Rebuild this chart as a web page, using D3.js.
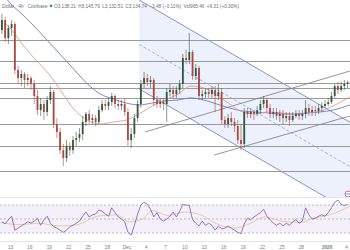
<!DOCTYPE html>
<html>
<head>
<meta charset="utf-8">
<script src="https://cdn.jsdelivr.net/npm/d3@7"></script>
<style>
	html, body { margin: 0; padding: 0; background: #fff; overflow: hidden; }
	svg { display: block; font-family: 'Liberation Sans', Arial, sans-serif; }
</style>
</head>
<body>
<svg width="350" height="250"></svg>
<script>
// 12h candles
let firstCandle = '2025-11-11 18'
let candleHours = 12

let opens = [3462, 3525, 3412, 3475, 3500, 3212, 3162, 3188, 3150, 3162, 3125, 3050, 2962, 3000, 2950, 3025, 3075, 2875, 2825, 2712,
	2662, 2738, 2712, 2775, 2788, 2812, 2888, 2938, 2900, 2912, 2888, 2962, 3000, 2988, 3012, 3050, 3000, 2988, 3000, 2950,
	2775, 2812, 2912, 3000, 3125, 3162, 3138, 3150, 3025, 3000, 3012, 3000, 3075, 3088, 3062, 3088, 3125, 3288, 3275, 3325,
	3175, 3225, 3050, 3062, 3075, 3062, 3088, 3050, 3075, 2900, 2875, 2912, 2888, 2862, 2775, 2750, 2950, 2938, 2950, 2938,
	2962, 3000, 3025, 2975, 2938, 2950, 2925, 2938, 2912, 2925, 2900, 2925, 2938, 2925, 2938, 2975, 2950, 2962, 2956, 2975,
	2988, 3000, 3012, 3050, 3112, 3088, 3112, 3125]
let highs = [3562, 3544, 3494, 3525, 3512, 3238, 3212, 3200, 3188, 3175, 3150, 3088, 3038, 3025, 3050, 3112, 3088, 2912, 2850, 2750,
	2775, 2762, 2800, 2825, 2850, 2925, 2950, 2962, 2938, 2931, 2988, 3025, 3025, 3038, 3069, 3062, 3025, 3025, 3038, 2975,
	2850, 2938, 3025, 3150, 3200, 3188, 3175, 3162, 3050, 3038, 3038, 3100, 3125, 3112, 3112, 3150, 3312, 3338, 3444, 3338,
	3250, 3238, 3088, 3100, 3100, 3112, 3112, 3125, 3100, 2925, 2938, 2950, 2912, 2900, 2875, 2975, 2975, 2975, 2962, 2988,
	3025, 3050, 3038, 3000, 2975, 2975, 2962, 2962, 2950, 2950, 2950, 2962, 2962, 2962, 3025, 3000, 2988, 2988, 3000, 3012,
	3025, 3038, 3075, 3125, 3138, 3138, 3150, 3146]
let lows = [3438, 3388, 3375, 3425, 3188, 3125, 3112, 3100, 3112, 3088, 3000, 2931, 2925, 2900, 2925, 3000, 2850, 2788, 2688, 2612,
	2638, 2675, 2688, 2738, 2762, 2775, 2862, 2875, 2875, 2862, 2875, 2950, 2962, 2962, 2988, 2975, 2962, 2962, 2925, 2738,
	2725, 2788, 2888, 2975, 3100, 3112, 3100, 2988, 2975, 2975, 2962, 2888, 3050, 3038, 3038, 3062, 3100, 3250, 3250, 3150,
	3150, 3025, 3025, 3038, 3038, 3038, 2950, 3025, 2875, 2850, 2850, 2862, 2825, 2750, 2712, 2725, 2912, 2912, 2900, 2925,
	2938, 2975, 2950, 2912, 2912, 2900, 2888, 2875, 2888, 2862, 2888, 2912, 2900, 2900, 2912, 2925, 2925, 2925, 2938, 2950,
	2975, 2988, 3000, 3038, 3062, 3075, 3088, 3100]
let closes = [3525, 3412, 3475, 3500, 3212, 3162, 3188, 3150, 3162, 3125, 3050, 2962, 3000, 2950, 3025, 3075, 2875, 2825, 2712, 2662,
	2738, 2712, 2775, 2788, 2812, 2888, 2938, 2900, 2912, 2888, 2962, 3000, 2988, 3012, 3050, 3000, 2988, 3000, 2950, 2775,
	2812, 2912, 3000, 3125, 3162, 3138, 3150, 3025, 3000, 3012, 3000, 3075, 3088, 3062, 3088, 3125, 3288, 3275, 3325, 3175,
	3225, 3050, 3062, 3075, 3062, 3088, 3050, 3075, 2900, 2875, 2912, 2888, 2862, 2775, 2750, 2950, 2938, 2950, 2938, 2962,
	3000, 3025, 2975, 2938, 2950, 2925, 2938, 2912, 2925, 2900, 2925, 2938, 2925, 2938, 2975, 2950, 2962, 2956, 2975, 2988,
	3000, 3012, 3050, 3112, 3088, 3112, 3125, 3134.74]

let rsiValues = [46, 43, 49, 54, 34, 37, 40, 43, 46, 44, 47, 51, 41, 49, 54, 44, 39, 37, 34, 31,
	34, 39, 41, 44, 47, 54, 60, 53, 56, 57, 63, 61, 57, 54, 66, 59, 53, 50, 46, 31,
	27, 41, 57, 70, 74, 71, 64, 53, 59, 50, 47, 50, 54, 60, 53, 61, 71, 70, 69, 49,
	44, 40, 47, 41, 44, 41, 34, 40, 36, 37, 40, 37, 34, 31, 29, 43, 51, 49, 53, 56,
	59, 64, 54, 49, 44, 41, 44, 40, 44, 41, 46, 49, 44, 47, 66, 56, 50, 51, 54, 56,
	54, 59, 66, 74, 77, 71, 69, 71]
let rsiAverage = [['2025-11-11 12', 45], ['2025-11-14 12', 42], ['2025-11-17 12', 44], ['2025-11-20 12', 40], ['2025-11-23 12', 42],
	['2025-11-26 12', 54], ['2025-11-29 12', 56], ['2025-12-01 12', 46], ['2025-12-03 12', 50], ['2025-12-05 00', 62],
	['2025-12-07 12', 55], ['2025-12-10 00', 60], ['2025-12-12 12', 56], ['2025-12-15 00', 43], ['2025-12-18 00', 37],
	['2025-12-20 00', 43], ['2025-12-22 12', 53], ['2025-12-25 00', 47], ['2025-12-28 00', 45], ['2025-12-30 00', 51],
	['2026-01-01 12', 56], ['2026-01-04 12', 68]]

let slowAverage = [['2025-11-12 06', 3669], ['2025-11-13 00', 3631], ['2025-11-14 12', 3575], ['2025-11-17 00', 3475], ['2025-11-19 00', 3388],
	['2025-11-21 00', 3300], ['2025-11-23 00', 3212], ['2025-11-25 00', 3125], ['2025-11-27 00', 3062], ['2025-11-29 00', 3031],
	['2025-12-01 00', 3006], ['2025-12-03 00', 2994], ['2025-12-05 00', 3006], ['2025-12-07 00', 3019], ['2025-12-09 00', 3025],
	['2025-12-11 00', 3038], ['2025-12-13 00', 3025], ['2025-12-15 00', 3000], ['2025-12-17 00', 2975], ['2025-12-19 00', 2956],
	['2025-12-21 00', 2950], ['2025-12-23 00', 2944], ['2025-12-25 00', 2938], ['2025-12-27 00', 2938], ['2025-12-29 00', 2944],
	['2025-12-31 00', 2950], ['2026-01-02 00', 2962], ['2026-01-04 14', 2994]]
let fastAverage = [['2025-11-12 00', 3512], ['2025-11-13 00', 3475], ['2025-11-15 00', 3369], ['2025-11-17 00', 3275], ['2025-11-19 00', 3188],
	['2025-11-21 00', 3075], ['2025-11-23 00', 2962], ['2025-11-25 00', 2900], ['2025-11-27 00', 2875], ['2025-11-29 00', 2888],
	['2025-12-01 00', 2900], ['2025-12-03 00', 2938], ['2025-12-05 00', 2988], ['2025-12-07 00', 3025], ['2025-12-09 00', 3062],
	['2025-12-11 00', 3112], ['2025-12-13 00', 3100], ['2025-12-15 00', 3056], ['2025-12-17 00', 3000], ['2025-12-19 00', 2950],
	['2025-12-21 00', 2938], ['2025-12-23 00', 2950], ['2025-12-25 00', 2944], ['2025-12-27 00', 2931], ['2025-12-29 00', 2944],
	['2025-12-31 00', 2956], ['2026-01-02 00', 2988], ['2026-01-04 14', 3044]]

let levels = [3400, 3269, 3131, 3100, 3038, 2875, 2738, 2581]

let channelUpper = [['2025-12-03 00', 3650], ['2026-01-05 00', 2877]]
let channelMiddle = [['2025-12-03 00', 3372], ['2026-01-05 00', 2599]]
let channelLower = [['2025-12-03 00', 3094], ['2026-01-05 00', 2321]]
let trendUpper = [['2025-12-03 21', 2825], ['2026-01-04 14', 3206]]
let trendLower = [['2025-12-14 14', 2681], ['2026-01-04 14', 2925]]

let tickDates = ['2025-11-13 00', '2025-11-16 00', '2025-11-19 00', '2025-11-22 00', '2025-11-25 00', '2025-11-28 00',
	'2025-12-01 00', '2025-12-04 00', '2025-12-07 00', '2025-12-10 00', '2025-12-13 00', '2025-12-16 00', '2025-12-19 00',
	'2025-12-22 00', '2025-12-25 00', '2025-12-28 00', '2026-01-01 00', '2026-01-04 00']
let tickLabels = ['13', '16', '19', '22', '25', '28', 'Dec', '4', '7', '10', '13', '16', '19', '22', '25', '28', '2026', '4']

let title = 'Ethereum / U.S. Dollar · 4h · Coinbase'
let legend = ['O3,138.21', 'H3,145.79', 'L3,132.51', 'C3,134.74', '\u22123.48 (\u22120.11%)', 'Vol965.46', '+9.31 (+0.30%)']

let parse = d3.timeParse('%Y-%m-%d %H')
let svg = d3.select('svg')

let x = d3.scaleTime().domain([parse('2025-11-13 00'), parse('2026-01-04 00')]).range([10, 346])
let y = d3.scaleLinear().domain([2418.75, 3650]).range([197, 0])
let rsiY = d3.scaleLinear().domain([30, 70]).range([233, 205])

let toPoints = list => list.map(p => ({date: parse(p[0]), value: p[1]}))
let priceLine = d3.line().x(d => x(d.date)).y(d => y(d.value))

svg.append('rect').attr('width', 350).attr('height', 250).attr('fill', '#fff')

svg.append('clipPath').attr('id', 'main')
	.append('rect').attr('x', 0).attr('y', 0).attr('width', 350).attr('height', 197)

let main = svg.append('g').attr('clip-path', 'url(#main)')

// channel shading
let shade = toPoints(channelUpper).concat(toPoints(channelLower).reverse())
main.append('path')
	.attr('d', priceLine(shade) + 'Z')
	.attr('fill', '#6688e0')
	.attr('fill-opacity', 0.12)

// horizontal levels
main.selectAll('line.level')
	.data(levels)
	.join('line')
	.attr('class', 'level')
	.attr('x1', 0)
	.attr('x2', 350)
	.attr('y1', d => Math.round(y(d)) + 0.5)
	.attr('y2', d => Math.round(y(d)) + 0.5)
	.attr('stroke', '#9a9a9a')
	.attr('stroke-width', 1)

main.append('path').attr('d', priceLine(toPoints(channelUpper)))
	.attr('fill', 'none').attr('stroke', '#8594cc').attr('stroke-width', 1)
main.append('path').attr('d', priceLine(toPoints(channelLower)))
	.attr('fill', 'none').attr('stroke', '#8594cc').attr('stroke-width', 1)
main.append('path').attr('d', priceLine(toPoints(channelMiddle)))
	.attr('fill', 'none').attr('stroke', '#9aa3c4').attr('stroke-width', 0.8).attr('stroke-dasharray', '3,2')

main.append('path').attr('d', priceLine(toPoints(trendUpper)))
	.attr('fill', 'none').attr('stroke', '#7b7b7b').attr('stroke-width', 0.8)
main.append('path').attr('d', priceLine(toPoints(trendLower)))
	.attr('fill', 'none').attr('stroke', '#7b7b7b').attr('stroke-width', 0.8)

let smooth = d3.line().curve(d3.curveMonotoneX).x(d => x(d.date)).y(d => y(d.value))
main.append('path').attr('d', smooth(toPoints(slowAverage)))
	.attr('fill', 'none').attr('stroke', '#6f79c8').attr('stroke-width', 0.9)
main.append('path').attr('d', smooth(toPoints(fastAverage)))
	.attr('fill', 'none').attr('stroke', '#e09a96').attr('stroke-width', 0.9)

// candles
let start = parse(firstCandle)
let candles = opens.map((o, i) => ({
	date: d3.timeHour.offset(start, i * candleHours),
	open: o, high: highs[i], low: lows[i], close: closes[i]
}))
let colour = d => d.close >= d.open ? '#35573f' : '#ad4840'

let candle = main.selectAll('g.candle')
	.data(candles)
	.join('g')
	.attr('class', 'candle')
candle.append('line')
	.attr('x1', d => x(d.date))
	.attr('x2', d => x(d.date))
	.attr('y1', d => y(d.high))
	.attr('y2', d => y(d.low))
	.attr('stroke', colour)
	.attr('stroke-width', 0.6)
candle.append('rect')
	.attr('x', d => x(d.date) - 0.9)
	.attr('width', 1.8)
	.attr('y', d => y(Math.max(d.open, d.close)))
	.attr('height', d => Math.max(0.8, Math.abs(y(d.open) - y(d.close))))
	.attr('fill', colour)

// marker at pane edge
svg.append('circle').attr('cx', 348).attr('cy', 194).attr('r', 3)
	.attr('fill', '#fff').attr('stroke', '#9c4fc4').attr('stroke-width', 0.8)
svg.append('line').attr('x1', 346).attr('x2', 350).attr('y1', 194).attr('y2', 194)
	.attr('stroke', '#9c4fc4').attr('stroke-width', 0.8)

// pane separators
svg.append('line').attr('x1', 0).attr('x2', 350).attr('y1', 197.5).attr('y2', 197.5).attr('stroke', '#e3e5ec')
svg.append('line').attr('x1', 0).attr('x2', 350).attr('y1', 241.5).attr('y2', 241.5).attr('stroke', '#e3e5ec')

// RSI pane
svg.append('rect')
	.attr('x', 0).attr('width', 350)
	.attr('y', rsiY(70)).attr('height', rsiY(30) - rsiY(70))
	.attr('fill', '#7e57c2').attr('fill-opacity', 0.09)
svg.selectAll('line.rsiLevel')
	.data([70, 50, 30])
	.join('line')
	.attr('class', 'rsiLevel')
	.attr('x1', 0).attr('x2', 350)
	.attr('y1', d => rsiY(d)).attr('y2', d => rsiY(d))
	.attr('stroke', '#9598a1').attr('stroke-width', 0.6).attr('stroke-dasharray', '2,2')

let rsiPoints = rsiValues.map((v, i) => ({date: candles[i].date, value: v}))
let rsiLine = d3.line().x(d => x(d.date)).y(d => rsiY(d.value))
svg.append('path').attr('d', d3.line().curve(d3.curveMonotoneX).x(d => x(d.date)).y(d => rsiY(d.value))(toPoints(rsiAverage)))
	.attr('fill', 'none').attr('stroke', '#e9c98b').attr('stroke-width', 0.9)
svg.append('path').attr('d', rsiLine(rsiPoints))
	.attr('fill', 'none').attr('stroke', '#7e57c2').attr('stroke-width', 0.8)

// time axis
let axis = d3.axisBottom(x)
	.tickValues(tickDates.map(parse))
	.tickFormat((d, i) => tickLabels[i])
	.tickSize(0)
	.tickPadding(3)
let axisGroup = svg.append('g').attr('transform', 'translate(0,243)').call(axis)
axisGroup.select('.domain').remove()
axisGroup.selectAll('text')
	.attr('font-size', 4.7)
	.attr('font-family', "'Liberation Sans', Arial, sans-serif")
	.attr('fill', '#7a7d87')
	.attr('font-weight', (d, i) => tickLabels[i] == '2026' ? 'bold' : 'normal')

// header, the title runs off the left edge as in the source screenshot
let header = svg.append('g').attr('font-size', 4.7).attr('fill', '#6d707a')
header.append('text').attr('x', 47.5).attr('y', 7.5).attr('text-anchor', 'end').text(title)
header.append('circle').attr('cx', 51).attr('cy', 5.9).attr('r', 1.4).attr('fill', '#26a69a')
let cursor = 54
legend.forEach(part => {
	let t = header.append('text').attr('x', cursor).attr('y', 7.5).text(part)
	cursor += t.node().getComputedTextLength() + 2.3
})
</script>
</body>
</html>
